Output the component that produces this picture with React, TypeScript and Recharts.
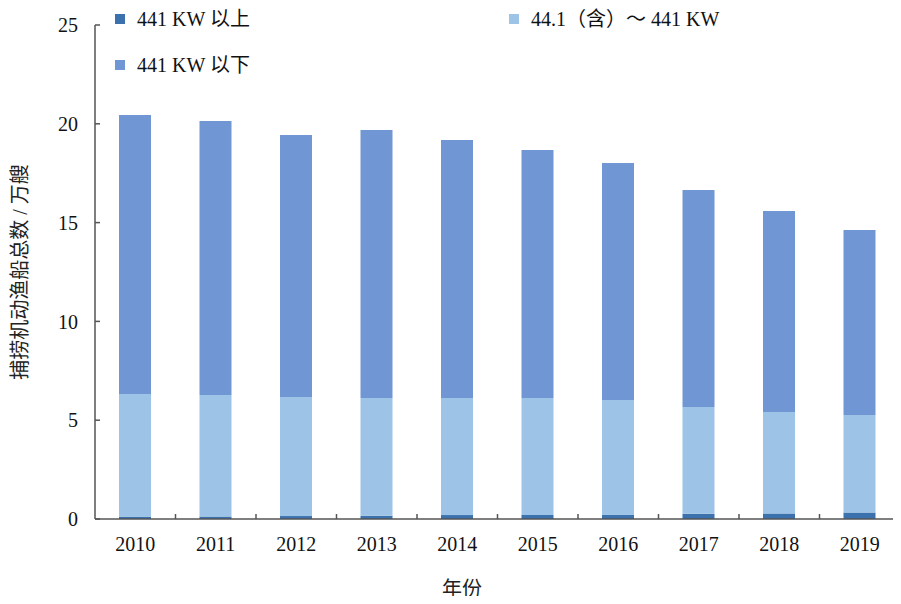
import React from "react";
import { BarChart, Bar, XAxis, YAxis } from "recharts";

const years = ["2010", "2011", "2012", "2013", "2014", "2015", "2016", "2017", "2018", "2019"];
// 万艘
const above441 = [0.12, 0.13, 0.15, 0.17, 0.2, 0.2, 0.22, 0.27, 0.28, 0.33];
const mid441 = [6.21, 6.15, 6.02, 5.95, 5.92, 5.92, 5.8, 5.4, 5.13, 4.93];
const below441 = [14.12, 13.86, 13.26, 13.57, 13.06, 12.55, 12.0, 10.98, 10.18, 9.37];
const yTicks = [0, 5, 10, 15, 20, 25];

const series = [
  { key: "above", name: "441 KW 以上", color: "#3b72ad" },
  { key: "mid", name: "44.1（含）～ 441 KW", color: "#9dc3e6" },
  { key: "below", name: "441 KW 以下", color: "#7096d4" },
];

const data = years.map((year, i) => ({
  year,
  above: above441[i],
  mid: mid441[i],
  below: below441[i],
}));

const W = 901;
const H = 604;
const LEFT = 95;
const RIGHT = 1;
const TOP = 25;
const XAXIS_H = 85;
const band = (W - LEFT - RIGHT) / years.length;
const font = '"Liberation Serif", "Times New Roman", "Noto Sans CJK SC", serif';
const axisColor = "#555";

function XTick(props: any) {
  const { x, y, payload } = props;
  return (
    <g>
      <line x1={x + band / 2} x2={x + band / 2} y1={y} y2={y - 5} stroke={axisColor} strokeWidth={1.5} />
      <text x={x} y={y + 32} textAnchor="middle" fontSize={20} fill="#111" fontFamily={font}>
        {payload.value}
      </text>
    </g>
  );
}

const legendPos = [
  { left: 115, top: 13 },
  { left: 509, top: 13 },
  { left: 115, top: 59 },
];

export default function App() {
  return (
    <div style={{ position: "relative", width: W, height: H, margin: -8, background: "#fff", fontFamily: font }}>
      <BarChart
        width={W}
        height={H}
        data={data}
        margin={{ top: TOP, right: RIGHT, left: 0, bottom: 0 }}
        barCategoryGap={0}
      >
        <XAxis
          dataKey="year"
          height={XAXIS_H}
          tickLine={false}
          tickSize={0}
          tickMargin={0}
          tick={<XTick />}
          axisLine={{ stroke: axisColor, strokeWidth: 1.5 }}
          interval={0}
        />
        <YAxis
          width={LEFT}
          domain={[0, 25]}
          ticks={yTicks}
          tickSize={-5}
          tickMargin={22}
          tick={{ fontSize: 20, fill: "#111", fontFamily: font }}
          tickLine={{ stroke: axisColor, strokeWidth: 1.5 }}
          axisLine={{ stroke: axisColor, strokeWidth: 1.5 }}
          label={{
            value: "捕捞机动渔船总数 / 万艘",
            angle: -90,
            position: "insideLeft",
            offset: 20,
            style: { fontSize: 20, fill: "#222", fontFamily: font, textAnchor: "middle" },
          }}
        />
        {series.map((s) => (
          <Bar key={s.key} dataKey={s.key} name={s.name} stackId="a" fill={s.color} barSize={32} isAnimationActive={false} />
        ))}
      </BarChart>
      {series.map((s, i) => (
        <div
          key={s.key}
          style={{
            position: "absolute",
            left: legendPos[i].left,
            top: legendPos[i].top,
            display: "flex",
            alignItems: "center",
            fontSize: 20,
            lineHeight: "12px",
            color: "#111",
            whiteSpace: "nowrap",
          }}
        >
          <span style={{ width: 10, height: 10, background: s.color, display: "inline-block", marginRight: 12 }} />
          {s.name}
        </div>
      ))}
      <div style={{ position: "absolute", left: 442, top: 579, fontSize: 20, lineHeight: "20px", color: "#222" }}>年份</div>
    </div>
  );
}
